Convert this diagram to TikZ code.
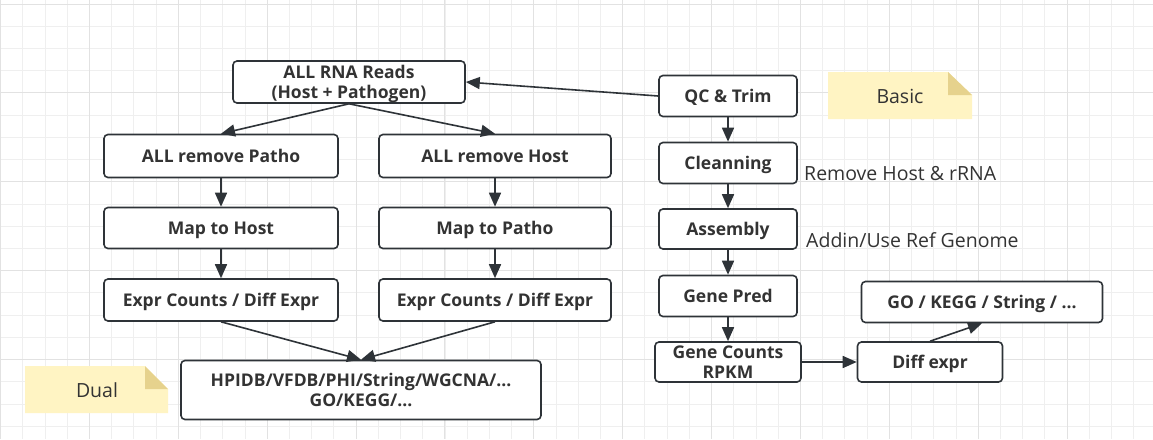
\documentclass[tikz,border=0pt]{standalone}
\usepackage{fontspec}
\setmainfont{Open Sans}
\usetikzlibrary{arrows.meta}

\definecolor{boxline}{HTML}{2E3338}
\definecolor{txtgray}{HTML}{333333}
\definecolor{notefill}{HTML}{FFF4C3}
\definecolor{notefold}{HTML}{E6D28D}
\definecolor{gridminor}{HTML}{EFEFEF}
\definecolor{gridmajor}{HTML}{E2E2E2}

\begin{document}
\begin{tikzpicture}[x=1pt, y=-1pt,
    box/.style={draw=boxline, line width=1.6pt, rounded corners=4pt, fill=white, text=txtgray,
                font=\bfseries\fontsize{17.5}{20}\selectfont, align=center, inner sep=0pt},
    oneline/.style={box, text height=15pt, text depth=2.5pt},
    twoline/.style={box, text height=35pt, text depth=2.5pt},
    remark/.style={text=txtgray, font=\fontsize{19.5}{22}\selectfont, inner sep=0pt,
                   text height=16.5pt, text depth=3pt},
    arr/.style={draw=boxline, line width=1.6pt, -{Triangle[length=14pt,width=12pt]}}]
  \useasboundingbox (0,0) rectangle (1153,439);
  \fill[white] (0,0) rectangle (1153,439);

  % background grid
  \foreach \gx in {0,...,51}
    \draw[gridminor, line width=0.8pt] ({0.5+22.22*\gx},0) -- ++(0,439);
  \foreach \gy in {0,...,19}
    \draw[gridminor, line width=0.8pt] (0,{4+22.22*\gy}) -- ++(1153,0);
  \foreach \gx in {0,...,12}
    \draw[gridmajor, line width=1pt] ({0.5+88.88*\gx},0) -- ++(0,439);
  \foreach \gy in {0,...,4}
    \draw[gridmajor, line width=1pt] (0,{4+88.88*\gy}) -- ++(1153,0);

  % sticky notes
  \fill[notefill] (828,72) -- (948,72) -- (972,95) -- (972,119) -- (828,119) -- cycle;
  \fill[notefold] (948,72) -- (948,95) -- (972,95) -- cycle;
  \node[remark] (basic) at (900,97) {Basic};
  \fill[notefill] (25,366) -- (145,366) -- (168,389) -- (168,413) -- (25,413) -- cycle;
  \fill[notefold] (145,366) -- (145,389) -- (168,389) -- cycle;
  \node[remark] (dual) at (97,391) {Dual};

  % dual RNA-seq branch
  \node[twoline, minimum width=232, minimum height=42] (reads) at (349,82) {ALL RNA Reads\\(Host + Pathogen)};
  \node[oneline, minimum width=234, minimum height=43] (rmpatho) at (221,156) {ALL remove Patho};
  \node[oneline, minimum width=232, minimum height=43] (rmhost) at (495,156) {ALL remove Host};
  \node[oneline, minimum width=234, minimum height=41] (maphost) at (221,228) {Map to Host};
  \node[oneline, minimum width=232, minimum height=41] (mappatho) at (495,228) {Map to Patho};
  \node[oneline, minimum width=234, minimum height=42] (exprhost) at (221,300) {Expr Counts / Diff Expr};
  \node[oneline, minimum width=232, minimum height=42] (exprpatho) at (495,300) {Expr Counts / Diff Expr};
  \node[twoline, minimum width=360, minimum height=59] (dbs) at (361,390) {HPIDB/VFDB/PHI/String/WGCNA/...\\GO/KEGG/...};

  % basic branch
  \node[oneline, minimum width=138, minimum height=41] (qc) at (728,96) {QC \& Trim};
  \node[oneline, minimum width=138, minimum height=41] (clean) at (728,163) {Cleanning};
  \node[oneline, minimum width=138, minimum height=40] (assembly) at (728,229) {Assembly};
  \node[oneline, minimum width=138, minimum height=41] (genepred) at (728,296) {Gene Pred};
  \node[twoline, minimum width=146, minimum height=40] (counts) at (728,362) {Gene Counts\\RPKM};
  \node[oneline, minimum width=145, minimum height=40] (diffexpr) at (930,362) {Diff expr};
  \node[oneline, minimum width=241, minimum height=41] (enrich) at (982,302) {GO / KEGG / String / ...};
  \node[remark, anchor=west] (rmnote) at (804,174) {Remove Host \& rRNA};
  \node[remark, anchor=west] (refnote) at (806,241) {Addin/Use Ref Genome};

  % connectors
  \draw[arr] (qc.west) -- (reads.east);
  \draw[arr] (reads.south) -- (rmpatho.north);
  \draw[arr] (reads.south) -- (rmhost.north);
  \draw[arr] (rmpatho) -- (maphost);
  \draw[arr] (rmhost) -- (mappatho);
  \draw[arr] (maphost) -- (exprhost);
  \draw[arr] (mappatho) -- (exprpatho);
  \draw[arr] (exprhost.south) -- (dbs.north);
  \draw[arr] (exprpatho.south) -- (dbs.north);
  \draw[arr] (qc) -- (clean);
  \draw[arr] (clean) -- (assembly);
  \draw[arr] (assembly) -- (genepred);
  \draw[arr] (genepred) -- (counts);
  \draw[arr] (counts) -- (diffexpr);
  \draw[arr] (diffexpr.north) -- (enrich.south);
\end{tikzpicture}
\end{document}
